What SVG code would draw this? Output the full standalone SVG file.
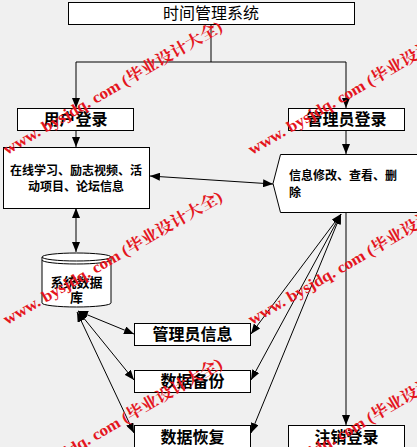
<svg xmlns="http://www.w3.org/2000/svg" width="417" height="447" viewBox="0 0 417 447">
<defs>
<style>
.box{fill:#fff;stroke:#000;stroke-width:1}
.ln{fill:none;stroke:#000;stroke-width:1}
.t16{font-family:"Liberation Sans","Noto Sans CJK SC",sans-serif;font-size:16px;text-anchor:middle}
.b16{font-family:"Liberation Sans","Noto Sans CJK SC",sans-serif;font-size:16px;font-weight:bold;text-anchor:middle}
.b12{font-family:"Liberation Sans","Noto Sans CJK SC",sans-serif;font-size:12px;font-weight:bold}
.b13{font-family:"Liberation Sans","Noto Sans CJK SC",sans-serif;font-size:13px;font-weight:bold;text-anchor:middle}
.wm{font-family:"Liberation Serif","Noto Serif CJK SC","Noto Sans CJK SC",serif;font-size:16px;font-weight:bold;fill:#e4161e}
</style>
<marker id="ah" viewBox="0 0 10 8" refX="10" refY="4" markerWidth="10" markerHeight="8" markerUnits="userSpaceOnUse" orient="auto-start-reverse">
<path d="M0,0 L10,4 L0,8 z" fill="#000"/>
</marker>
</defs>
<rect x="0" y="0" width="417" height="447" fill="#f0f0f0"/>

<g id="connectors">
<path class="ln" d="M211,24 V62 M76,62 H346"/>
<path class="ln" d="M76,62 V108" marker-end="url(#ah)"/>
<path class="ln" d="M346,62 V108" marker-end="url(#ah)"/>
<path class="ln" d="M76,130 V147" marker-end="url(#ah)"/>
<path class="ln" d="M346,130 V154" marker-end="url(#ah)"/>
<path class="ln" d="M150,176 L273,184" marker-start="url(#ah)" marker-end="url(#ah)"/>
<path class="ln" d="M76,208 V252" marker-start="url(#ah)" marker-end="url(#ah)"/>
<path class="ln" d="M78,311 L134,334" marker-start="url(#ah)" marker-end="url(#ah)"/>
<path class="ln" d="M78,311 L134,380" marker-start="url(#ah)" marker-end="url(#ah)"/>
<path class="ln" d="M77,312 L134,433" marker-start="url(#ah)" marker-end="url(#ah)"/>
<path class="ln" d="M341,214 L251,334" marker-start="url(#ah)" marker-end="url(#ah)"/>
<path class="ln" d="M341,214 L251,380" marker-start="url(#ah)" marker-end="url(#ah)"/>
<path class="ln" d="M341,214 L251,433" marker-start="url(#ah)" marker-end="url(#ah)"/>
<path class="ln" d="M346,213 V425" marker-end="url(#ah)"/>
</g>

<g id="title">
<rect class="box" x="68.5" y="2.5" width="286" height="22"/>
<text class="t16" x="211" y="19">时间管理系统</text>
</g>
<g id="user-login">
<rect class="box" x="17.5" y="108.5" width="116" height="22"/>
<text class="b16" x="75.5" y="125">用户登录</text>
</g>
<g id="admin-login">
<rect class="box" x="288.5" y="108.5" width="116" height="22"/>
<text class="b16" x="346.5" y="125">管理员登录</text>
</g>
<g id="user-functions">
<rect class="box" x="3.5" y="147.5" width="146" height="61"/>
<text class="b12" x="76" y="175" text-anchor="middle">在线学习、励志视频、活</text>
<text class="b12" x="76" y="191" text-anchor="middle">动项目、论坛信息</text>
</g>
<g id="info-manage">
<path class="box" d="M273,183.5 L280.5,154.5 H420 V212.5 H280.5 Z"/>
<text class="b12" x="289" y="180">信息修改、查看、删</text>
<text class="b12" x="289" y="197">除</text>
</g>
<g id="database">
<path class="box" d="M42,257 A34.5,4 0 0 1 111,257 V303 A34.5,4 0 0 1 42,303 Z"/>
<path class="ln" d="M42,257 A34.5,4 0 0 0 111,257 M42,260 A34.5,4 0 0 0 111,260"/>
<text class="b13" x="76.5" y="287">系统数据</text>
<text class="b13" x="76.5" y="302">库</text>
</g>
<g id="admin-info">
<rect class="box" x="134.5" y="323.5" width="116" height="22"/>
<text class="b16" x="192.5" y="340">管理员信息</text>
</g>
<g id="data-backup">
<rect class="box" x="134.5" y="370.5" width="116" height="22"/>
<text class="b16" x="192.5" y="387">数据备份</text>
</g>
<g id="data-restore">
<rect class="box" x="134.5" y="425.5" width="116" height="24"/>
<text class="b16" x="192.5" y="443">数据恢复</text>
</g>
<g id="logout">
<rect class="box" x="288.5" y="425.5" width="116" height="24"/>
<text class="b16" x="346.5" y="443">注销登录</text>
</g>

<g id="watermarks">
<text class="wm" transform="translate(7,155) rotate(-30)" textLength="250" lengthAdjust="spacingAndGlyphs">www. bysjdq. com (毕业设计大全)</text>
<text class="wm" transform="translate(252,155) rotate(-30)" textLength="250" lengthAdjust="spacingAndGlyphs">www. bysjdq. com (毕业设计大全)</text>
<text class="wm" transform="translate(7,325) rotate(-30)" textLength="250" lengthAdjust="spacingAndGlyphs">www. bysjdq. com (毕业设计大全)</text>
<text class="wm" transform="translate(252,325) rotate(-30)" textLength="250" lengthAdjust="spacingAndGlyphs">www. bysjdq. com (毕业设计大全)</text>
<text class="wm" transform="translate(7,492) rotate(-30)" textLength="250" lengthAdjust="spacingAndGlyphs">www. bysjdq. com (毕业设计大全)</text>
<text class="wm" transform="translate(252,492) rotate(-30)" textLength="250" lengthAdjust="spacingAndGlyphs">www. bysjdq. com (毕业设计大全)</text>
</g>
</svg>
